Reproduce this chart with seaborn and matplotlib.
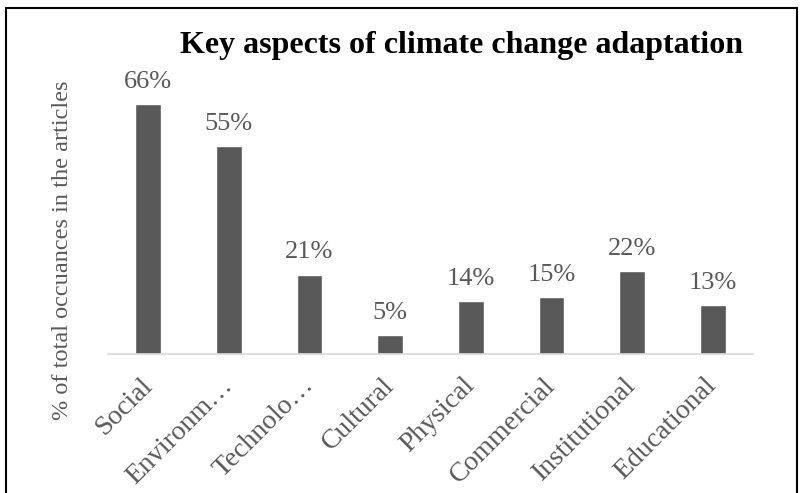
import matplotlib
matplotlib.use("Agg")
import matplotlib.pyplot as plt
import seaborn as sns
import pandas as pd
from matplotlib.patches import Rectangle

# ---------- DATA ----------
categories = ["Social", "Environm…", "Technolo…", "Cultural", "Physical",
              "Commercial", "Institutional", "Educational"]
shares = [66, 55, 21, 5, 14, 15, 22, 13]
value_labels = ["66%", "55%", "21%", "5%", "14%", "15%", "22%", "13%"]
# --------------------------

GRAY = "#595959"
sns.set_style("white")
plt.rcParams["font.family"] = ["Liberation Serif", "DejaVu Serif"]

df = pd.DataFrame({"aspect": categories, "share": shares})

fig = plt.figure(figsize=(8.02, 4.93), dpi=100)
ax = fig.add_axes([108 / 802, 1 - 354 / 493, 645 / 802, 265 / 493])

sns.barplot(data=df, x="aspect", y="share", color=GRAY, saturation=1,
            width=0.32, ax=ax)
ax.bar_label(ax.containers[0], labels=value_labels, padding=8,
             fontsize=19, color=GRAY)

ax.set_ylim(0, 70)
ax.set_xlim(-0.5, len(categories) - 0.5)
ax.set_xlabel("")
ax.set_ylabel("")
ax.set_yticks([])
for side in ["left", "right", "top"]:
    ax.spines[side].set_visible(False)
ax.spines["bottom"].set_color("#d9d9d9")
ax.spines["bottom"].set_linewidth(1.2)

ax.tick_params(axis="x", length=0, pad=20)
for lbl in ax.get_xticklabels():
    lbl.set_rotation(45)
    lbl.set_ha("right")
    lbl.set_va("center")
    lbl.set_rotation_mode("anchor")
    lbl.set_fontsize(20)
    lbl.set_color(GRAY)

fig.text(461 / 802, 1 - 46 / 493, "Key aspects of climate change adaptation",
         ha="center", va="center", fontsize=23, fontweight="bold", color="black")
fig.text(63 / 802, 1 - 250 / 493, "% of total occuances in the articles",
         rotation=90, ha="center", va="center", fontsize=17.5, color=GRAY)

fig.patches.append(Rectangle((6 / 802, -0.05), 791 / 802, 1.05 - 8 / 493,
                             transform=fig.transFigure, fill=False,
                             edgecolor="black", linewidth=1.5))

fig.savefig("out.png", dpi=100)
